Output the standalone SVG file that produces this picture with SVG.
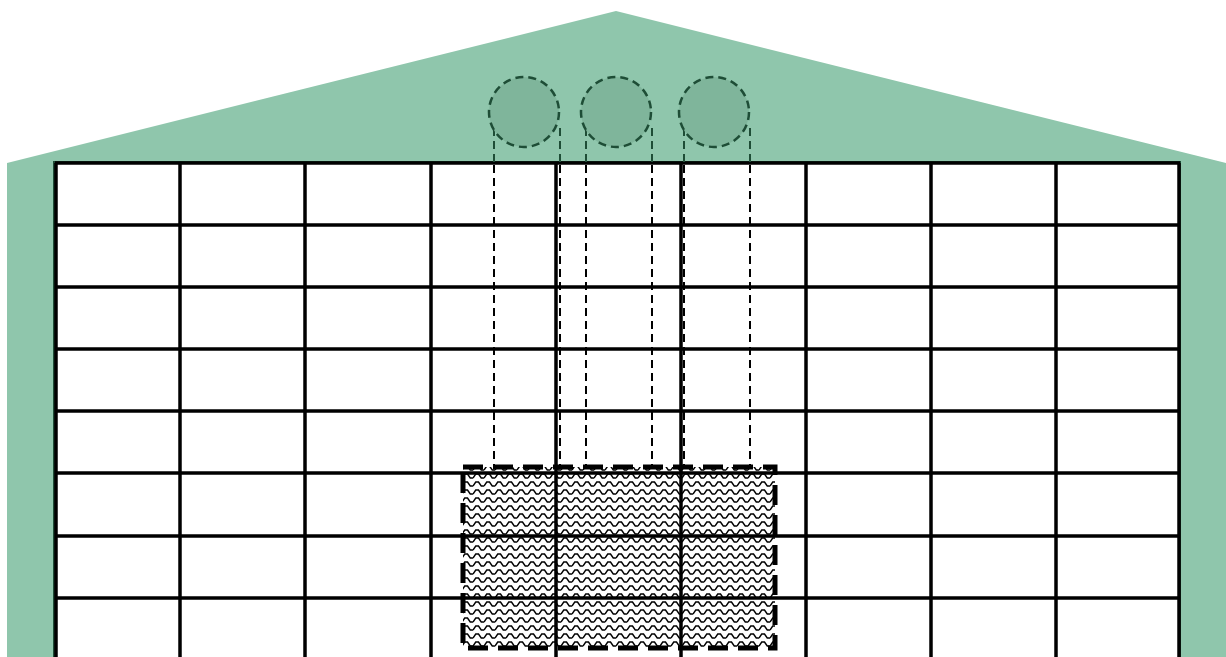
<svg xmlns="http://www.w3.org/2000/svg" width="1226" height="657" viewBox="0 0 1226 657">
<defs>
<style>
.bldg{fill:#8fc6ac;stroke:none}
.grid line{stroke:#000;stroke-width:3.5}
.fan{fill:#7fb59b;stroke:#1e4d36;stroke-width:2.5;stroke-dasharray:8 5}
.drop{stroke:#000;stroke-width:2;stroke-dasharray:8 5;fill:none}
.dropg{stroke:#1e4d36;stroke-width:2;stroke-dasharray:8 5;fill:none}
.zone{fill:url(#wave);stroke:#000;stroke-width:5;stroke-dasharray:20 10}
</style>
<pattern id="wave" x="0" y="0" width="11" height="8" patternUnits="userSpaceOnUse">
<rect width="11" height="8" fill="#fff"/>
<path d="M0 6 L2.75 2 L5.5 2 L8.25 6 L11 6" fill="none" stroke="#000" stroke-width="1.4"/>
</pattern>
</defs>
<polygon class="bldg" points="7,163 616,11 1226,163 1226,657 7,657"/>
<rect x="54" y="162" width="1126" height="500" fill="#fff" stroke="#1e4d36" stroke-width="2"/>
<g id="zone">
<rect class="zone" x="463" y="467" width="312" height="181"/>
</g>
<g id="grid" class="grid">
<line x1="55" y1="163" x2="1180" y2="163"/>
<line x1="55" y1="225" x2="1180" y2="225"/>
<line x1="55" y1="287" x2="1180" y2="287"/>
<line x1="55" y1="349" x2="1180" y2="349"/>
<line x1="55" y1="411" x2="1180" y2="411"/>
<line x1="55" y1="473" x2="1180" y2="473"/>
<line x1="55" y1="536" x2="1180" y2="536"/>
<line x1="55" y1="598" x2="1180" y2="598"/>
<line x1="56" y1="163" x2="56" y2="657"/>
<line x1="180" y1="163" x2="180" y2="657"/>
<line x1="305" y1="163" x2="305" y2="657"/>
<line x1="431" y1="163" x2="431" y2="657"/>
<line x1="556" y1="163" x2="556" y2="657"/>
<line x1="681" y1="163" x2="681" y2="657"/>
<line x1="806" y1="163" x2="806" y2="657"/>
<line x1="931" y1="163" x2="931" y2="657"/>
<line x1="1056" y1="163" x2="1056" y2="657"/>
<line x1="1179" y1="163" x2="1179" y2="657"/>
</g>
<g id="connectors">
<line class="dropg" x1="494" y1="128" x2="494" y2="162"/>
<line class="drop" x1="494" y1="165" x2="494" y2="465"/>
<line class="dropg" x1="560" y1="128" x2="560" y2="162"/>
<line class="drop" x1="560" y1="165" x2="560" y2="465"/>
<line class="dropg" x1="586" y1="128" x2="586" y2="162"/>
<line class="drop" x1="586" y1="165" x2="586" y2="465"/>
<line class="dropg" x1="652" y1="128" x2="652" y2="162"/>
<line class="drop" x1="652" y1="165" x2="652" y2="465"/>
<line class="dropg" x1="684" y1="128" x2="684" y2="162"/>
<line class="drop" x1="684" y1="165" x2="684" y2="465"/>
<line class="dropg" x1="750" y1="128" x2="750" y2="162"/>
<line class="drop" x1="750" y1="165" x2="750" y2="465"/>
</g>
<g id="fan1"><circle class="fan" cx="524" cy="112" r="35"/></g>
<g id="fan2"><circle class="fan" cx="616" cy="112" r="35"/></g>
<g id="fan3"><circle class="fan" cx="714" cy="112" r="35"/></g>
</svg>
